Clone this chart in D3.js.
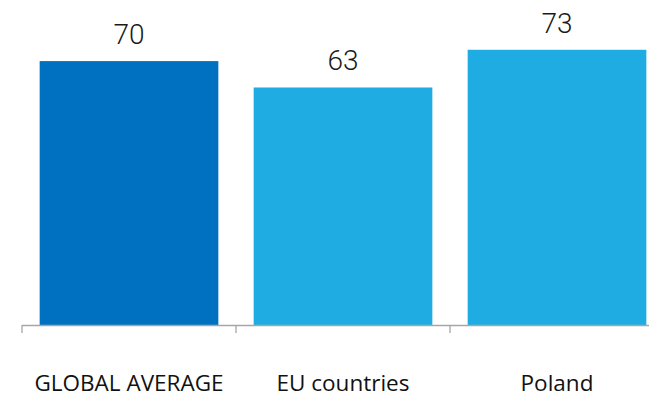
<!DOCTYPE html>
<html>
<head>
<meta charset="utf-8">
<script src="https://cdn.jsdelivr.net/npm/d3@7/dist/d3.min.js"></script>
<style>
  html, body { margin: 0; padding: 0; background: #ffffff; }
  svg { display: block; }
</style>
</head>
<body>
<svg id="chart" width="649" height="393"></svg>
<script>
const categories = ["GLOBAL AVERAGE", "EU countries", "Poland"];
const values = [70, 63, 73];
const barColors = ["#0071C1", "#1EACE2", "#1EACE2"];

const W = 649, H = 393;
const svg = d3.select("#chart");

const x = d3.scaleBand()
  .domain(categories)
  .range([22, 664])
  .paddingInner(0.165)
  .paddingOuter(0.0825);

const y = d3.scaleLinear()
  .domain([0, 80])
  .range([325, 23.4]);

// bars
svg.append("g").selectAll("rect")
  .data(categories)
  .join("rect")
  .attr("x", d => x(d))
  .attr("width", x.bandwidth())
  .attr("y", (d, i) => y(values[i]))
  .attr("height", (d, i) => y(0) - y(values[i]))
  .attr("fill", (d, i) => barColors[i]);

// axis
const axis = svg.append("g").attr("stroke", "#A6A6A6").attr("stroke-width", 1.3);
axis.append("line")
  .attr("x1", 22).attr("x2", W + 10)
  .attr("y1", y(0) + 0.5).attr("y2", y(0) + 0.5);
const bounds = categories.map(c => x(c) - x.step() * x.paddingInner() / 2);
axis.selectAll("line.tick")
  .data(bounds)
  .join("line")
  .attr("class", "tick")
  .attr("x1", d => d).attr("x2", d => d)
  .attr("y1", y(0)).attr("y2", y(0) + 8);

// value labels
svg.append("g").selectAll("text")
  .data(categories)
  .join("text")
  .attr("x", d => x(d) + x.bandwidth() / 2)
  .attr("y", (d, i) => y(values[i]) - 17)
  .attr("text-anchor", "middle")
  .attr("font-family", "Roboto, sans-serif")
  .attr("font-weight", 300)
  .attr("font-size", 28)
  .attr("fill", "#1a1a1a")
  .text((d, i) => values[i]);

// category labels
svg.append("g").selectAll("text")
  .data(categories)
  .join("text")
  .attr("x", d => x(d) + x.bandwidth() / 2)
  .attr("y", 390.5)
  .attr("text-anchor", "middle")
  .attr("font-family", "'Open Sans', sans-serif")
  .attr("font-size", 22.5)
  .attr("fill", "#111")
  .text(d => d);
</script>
</body>
</html>
